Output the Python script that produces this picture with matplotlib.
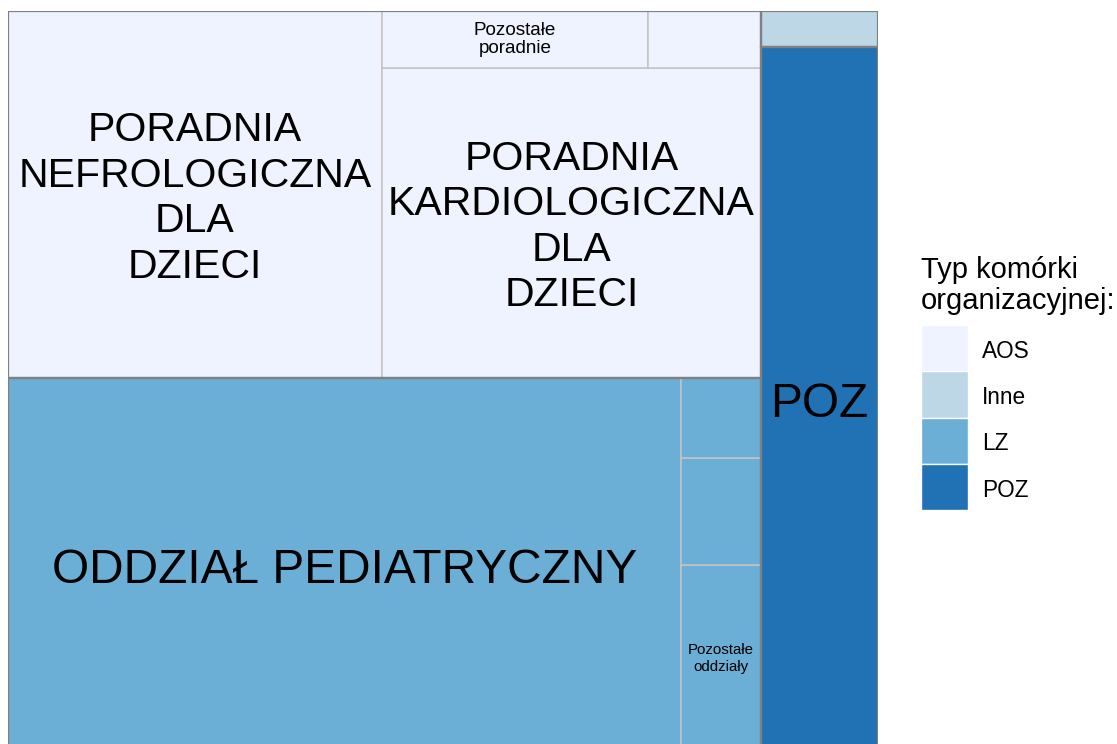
import matplotlib
matplotlib.use("Agg")
import matplotlib.pyplot as plt
from matplotlib.patches import Rectangle
from matplotlib.transforms import ScaledTranslation

plt.rcParams['font.family'] = ['Liberation Sans', 'DejaVu Sans']

# data: one tile per organisational unit
groups = ["AOS", "AOS", "AOS", "AOS", "LZ", "LZ", "LZ", "LZ", "Inne", "POZ"]
units = ["PORADNIA NEFROLOGICZNA DLA DZIECI",
         "PORADNIA KARDIOLOGICZNA DLA DZIECI",
         "Pozostałe poradnie",
         "Inna poradnia",
         "ODDZIAŁ PEDIATRYCZNY",
         "Pozostałe oddziały",
         "Inny oddział 1",
         "Inny oddział 2",
         "Inne",
         "POZ"]
values = [2129, 1823, 235, 100, 3904, 232, 133, 99, 65, 1280]
# labels as wrapped in the chart ("" = label did not fit in its tile)
labels = ["PORADNIA\nNEFROLOGICZNA\nDLA\nDZIECI",
          "PORADNIA\nKARDIOLOGICZNA\nDLA\nDZIECI",
          "Pozostałe\nporadnie",
          "",
          "ODDZIAŁ PEDIATRYCZNY",
          "Pozostałe\noddziały",
          "",
          "",
          "",
          "POZ"]

legend_title = "Typ komórki\norganizacyjnej:"
group_names = ["AOS", "Inne", "LZ", "POZ"]
group_colors = {"AOS": "#EFF3FF", "Inne": "#BDD7E7", "LZ": "#6BAED6", "POZ": "#2171B5"}

# label font size (pt), line spacing, vertical nudge (px) - style only
label_style = {"PORADNIA NEFROLOGICZNA DLA DZIECI": (29.5, 1.25, -4),
               "PORADNIA KARDIOLOGICZNA DLA DZIECI": (29.5, 1.25, -4),
               "Pozostałe poradnie": (13.6, 1.15, 0),
               "ODDZIAŁ PEDIATRYCZNY": (34.5, 1.2, 0),
               "Pozostałe oddziały": (10.8, 1.2, 0),
               "POZ": (34.5, 1.2, 0)}


def worst(row, side):
    s = sum(row)
    return max(max(side * side * r / (s * s), s * s / (side * side * r)) for r in row)


def squarify(vals, x, y, w, h):
    """squarified layout, vals sorted descending and summing to w*h"""
    rects = []
    vals = list(vals)
    while vals:
        side = min(w, h)
        row = [vals[0]]
        i = 1
        while i < len(vals) and worst(row + [vals[i]], side) <= worst(row, side):
            row.append(vals[i])
            i += 1
        s = sum(row)
        if w >= h:
            cw = s / h
            yy = y
            for r in row:
                rh = r / cw
                rects.append((x, yy, cw, rh))
                yy += rh
            x += cw
            w -= cw
        else:
            rh = s / w
            xx = x
            for r in row:
                rw = r / rh
                rects.append((xx, y, rw, rh))
                xx += rw
            y += rh
            h -= rh
        vals = vals[i:]
    return rects


total = float(sum(values))
gsum = {g: sum(v for gg, v in zip(groups, values) if gg == g) for g in group_names}
gorder = sorted(group_names, key=lambda g: -gsum[g])
grects = squarify([gsum[g] / total for g in gorder], 0, 0, 1, 1)

W, H = 1117, 744
fig = plt.figure(figsize=(W / 100, H / 100), dpi=100)
ax = fig.add_axes([8 / W, 1 - 752 / H, 870 / W, 741 / H])
ax.set_xlim(0, 1)
ax.set_ylim(0, 1)
ax.axis("off")

for g, (gx, gy, gw, gh) in zip(gorder, grects):
    idx = [i for i, gg in enumerate(groups) if gg == g]
    idx.sort(key=lambda i: -values[i])
    scale = gw * gh / gsum[g]
    trects = squarify([values[i] * scale for i in idx], gx, gy, gw, gh)
    for i, (tx, ty, tw, th) in zip(idx, trects):
        ax.add_patch(Rectangle((tx, ty), tw, th, facecolor=group_colors[g],
                               edgecolor="#C4C4C4", linewidth=1.1))
        if labels[i]:
            fs, ls, dy = label_style[units[i]]
            va = "center" if "\n" in labels[i] else "center_baseline"
            tr = ax.transData + ScaledTranslation(0, dy / 100, fig.dpi_scale_trans)
            ax.text(tx + tw / 2, ty + th / 2, labels[i], ha="center", va=va,
                    fontsize=fs, linespacing=ls, color="black", transform=tr)
    ax.add_patch(Rectangle((gx, gy), gw, gh, facecolor="none",
                           edgecolor="#808080", linewidth=1.6, zorder=5))

# legend, drawn in pixel coordinates on an overlay axes
lax = fig.add_axes([0, 0, 1, 1])
lax.set_xlim(0, W)
lax.set_ylim(H, 0)
lax.axis("off")
lax.text(921, 256.5, legend_title, ha="left", va="top", fontsize=21,
         linespacing=1.11)
key, y0 = 46.3, 325
for k, g in enumerate(group_names):
    lax.add_patch(Rectangle((921, y0 + k * key), 47, key, facecolor=group_colors[g],
                            edgecolor="white", linewidth=1))
    lax.text(982, y0 + k * key + key / 2 + 3, g, ha="left", va="center", fontsize=16.3)

fig.savefig("out.png", dpi=100)
